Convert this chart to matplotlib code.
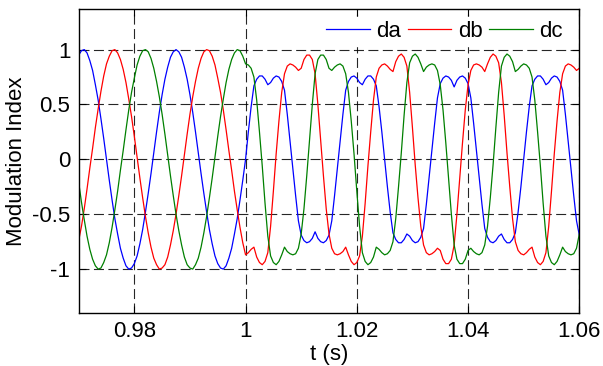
import numpy as np
import matplotlib
matplotlib.use("Agg")
import matplotlib.pyplot as plt

plt.rcParams['font.family'] = ['Liberation Sans', 'DejaVu Sans']
plt.rcParams['axes.unicode_minus'] = False

# sample times: 0.5 ms grid from 0.97 s to 1.06 s (181 samples)
t = np.linspace(0.97, 1.06, 181)

# modulation index of each phase
# before t = 1 s (0.970 ... 1.000 s)
da_before = [0.95, 0.99, 1.00, 0.97, 0.90, 0.81, 0.68, 0.54, 0.37, 0.19,
             0.00, -0.19, -0.37, -0.54, -0.68, -0.81, -0.90, -0.97, -1.00, -0.99,
             -0.95, -0.88, -0.77, -0.64, -0.48, -0.31, -0.13, 0.06, 0.25, 0.43,
             0.59, 0.73, 0.84, 0.93, 0.98, 1.00, 0.98, 0.93, 0.84, 0.73,
             0.59, 0.43, 0.25, 0.06, -0.13, -0.31, -0.48, -0.64, -0.77, -0.88,
             -0.95, -0.99, -1.00, -0.97, -0.90, -0.81, -0.68, -0.54, -0.37, -0.19,
             0.00]
db_before = [-0.74, -0.61, -0.45, -0.27, -0.08, 0.10, 0.29, 0.46, 0.62, 0.76,
             0.87, 0.94, 0.99, 1.00, 0.97, 0.91, 0.82, 0.70, 0.55, 0.39,
             0.21, 0.02, -0.17, -0.35, -0.52, -0.67, -0.80, -0.90, -0.96, -1.00,
             -0.99, -0.96, -0.89, -0.78, -0.65, -0.50, -0.33, -0.15, 0.04, 0.23,
             0.41, 0.57, 0.71, 0.83, 0.92, 0.98, 1.00, 0.99, 0.94, 0.86,
             0.74, 0.61, 0.45, 0.27, 0.08, -0.10, -0.29, -0.46, -0.62, -0.76,
             -0.87]
dc_before = [-0.21, -0.39, -0.55, -0.70, -0.82, -0.91, -0.97, -1.00, -0.99, -0.94,
             -0.87, -0.76, -0.62, -0.46, -0.29, -0.10, 0.08, 0.27, 0.45, 0.61,
             0.74, 0.86, 0.94, 0.99, 1.00, 0.98, 0.92, 0.83, 0.71, 0.57,
             0.41, 0.23, 0.04, -0.15, -0.33, -0.50, -0.65, -0.78, -0.89, -0.96,
             -0.99, -1.00, -0.96, -0.90, -0.80, -0.67, -0.52, -0.35, -0.17, 0.02,
             0.21, 0.39, 0.55, 0.70, 0.82, 0.91, 0.97, 1.00, 0.99, 0.94,
             0.87]

# after t = 1 s (1.0005 ... 1.060 s)
da_after = [0.25, 0.48, 0.67, 0.73, 0.76, 0.76, 0.73, 0.68, 0.70, 0.74,
            0.76, 0.75, 0.71, 0.63, 0.41, 0.16, -0.08, -0.33, -0.56, -0.69,
            -0.74, -0.76, -0.75, -0.72, -0.66, -0.72, -0.75, -0.76, -0.74, -0.69,
            -0.56, -0.33, -0.08, 0.16, 0.41, 0.63, 0.71, 0.75, 0.76, 0.74,
            0.70, 0.68, 0.73, 0.76, 0.76, 0.73, 0.67, 0.48, 0.25, 0.00,
            -0.25, -0.48, -0.67, -0.73, -0.76, -0.76, -0.73, -0.68, -0.70, -0.74,
            -0.76, -0.75, -0.71, -0.63, -0.41, -0.16, 0.08, 0.33, 0.56, 0.69,
            0.74, 0.76, 0.75, 0.72, 0.66, 0.72, 0.75, 0.76, 0.74, 0.69,
            0.56, 0.33, 0.08, -0.16, -0.41, -0.63, -0.71, -0.75, -0.76, -0.74,
            -0.70, -0.68, -0.73, -0.76, -0.76, -0.73, -0.67, -0.48, -0.25, 0.00,
            0.25, 0.48, 0.67, 0.73, 0.76, 0.76, 0.73, 0.68, 0.70, 0.74,
            0.76, 0.75, 0.71, 0.63, 0.41, 0.16, -0.08, -0.33, -0.56, -0.69]
db_after = [-0.85, -0.82, -0.80, -0.89, -0.94, -0.96, -0.93, -0.85, -0.61, -0.29,
            0.05, 0.35, 0.61, 0.78, 0.85, 0.87, 0.86, 0.84, 0.81, 0.83,
            0.91, 0.95, 0.95, 0.91, 0.78, 0.50, 0.17, -0.15, -0.45, -0.68,
            -0.81, -0.86, -0.87, -0.86, -0.84, -0.80, -0.87, -0.93, -0.96, -0.94,
            -0.88, -0.70, -0.40, -0.06, 0.25, 0.54, 0.75, 0.83, 0.86, 0.87,
            0.85, 0.82, 0.80, 0.89, 0.94, 0.96, 0.93, 0.85, 0.61, 0.29,
            -0.05, -0.35, -0.61, -0.78, -0.85, -0.87, -0.86, -0.84, -0.81, -0.83,
            -0.91, -0.95, -0.95, -0.91, -0.78, -0.50, -0.17, 0.15, 0.45, 0.68,
            0.81, 0.86, 0.87, 0.86, 0.84, 0.80, 0.87, 0.93, 0.96, 0.94,
            0.88, 0.70, 0.40, 0.06, -0.25, -0.54, -0.75, -0.83, -0.86, -0.87,
            -0.85, -0.82, -0.80, -0.89, -0.94, -0.96, -0.93, -0.85, -0.61, -0.29,
            0.05, 0.35, 0.61, 0.78, 0.85, 0.87, 0.86, 0.84, 0.81, 0.83]
dc_after = [0.86, 0.83, 0.75, 0.54, 0.25, -0.06, -0.40, -0.70, -0.88, -0.94,
            -0.96, -0.93, -0.87, -0.80, -0.84, -0.86, -0.87, -0.86, -0.81, -0.68,
            -0.45, -0.15, 0.17, 0.50, 0.78, 0.91, 0.95, 0.95, 0.91, 0.83,
            0.81, 0.84, 0.86, 0.87, 0.85, 0.78, 0.61, 0.35, 0.05, -0.29,
            -0.61, -0.85, -0.93, -0.96, -0.94, -0.89, -0.80, -0.82, -0.85, -0.87,
            -0.86, -0.83, -0.75, -0.54, -0.25, 0.06, 0.40, 0.70, 0.88, 0.94,
            0.96, 0.93, 0.87, 0.80, 0.84, 0.86, 0.87, 0.86, 0.81, 0.68,
            0.45, 0.15, -0.17, -0.50, -0.78, -0.91, -0.95, -0.95, -0.91, -0.83,
            -0.81, -0.84, -0.86, -0.87, -0.85, -0.78, -0.61, -0.35, -0.05, 0.29,
            0.61, 0.85, 0.93, 0.96, 0.94, 0.89, 0.80, 0.82, 0.85, 0.87,
            0.86, 0.83, 0.75, 0.54, 0.25, -0.06, -0.40, -0.70, -0.88, -0.94,
            -0.96, -0.93, -0.87, -0.80, -0.84, -0.86, -0.87, -0.86, -0.81, -0.68]

da = np.array(da_before + da_after)
db = np.array(db_before + db_after)
dc = np.array(dc_before + dc_after)

xticks = [0.98, 1.00, 1.02, 1.04, 1.06]
xticklabels = ['0.98', '1', '1.02', '1.04', '1.06']
yticks = [-1, -0.5, 0, 0.5, 1]
yticklabels = ['-1', '-0.5', '0', '0.5', '1']

fig = plt.figure(figsize=(6.03, 3.66), dpi=100)
ax = fig.add_axes([0.1305, 0.1448, 0.8302, 0.8306])

ax.plot(t, da, color=(0, 0, 1), linewidth=0.9, label='da')
ax.plot(t, db, color=(1, 0, 0), linewidth=0.9, label='db')
ax.plot(t, dc, color=(0, 0.5, 0), linewidth=0.9, label='dc')

ax.set_xlim(0.97, 1.06)
ax.set_ylim(-1.4, 1.37)
ax.set_xticks(xticks)
ax.set_xticklabels(xticklabels)
ax.set_yticks(yticks)
ax.set_yticklabels(yticklabels)

ax.tick_params(direction='in', length=5, width=0.8, top=True, right=True,
               labelsize=16, pad=6)
for s in ax.spines.values():
    s.set_linewidth(1.0)

ax.grid(True, color='k', linestyle=(0, (9, 4)), linewidth=0.8, alpha=0.85)
ax.set_axisbelow(True)

ax.set_xlabel('t (s)', fontsize=16, labelpad=1)
ax.set_ylabel('Modulation Index', fontsize=16, labelpad=4)

# legend without border, white background, top right
leg = ax.legend(loc='upper right', bbox_to_anchor=(0.976, 0.975), ncol=3,
                fontsize=16, frameon=True, fancybox=False,
                facecolor='white', edgecolor='white', framealpha=1,
                handlelength=1.95, handletextpad=0.3, columnspacing=0.3,
                borderaxespad=0, borderpad=0.2)

fig.savefig('out.png', dpi=100)
